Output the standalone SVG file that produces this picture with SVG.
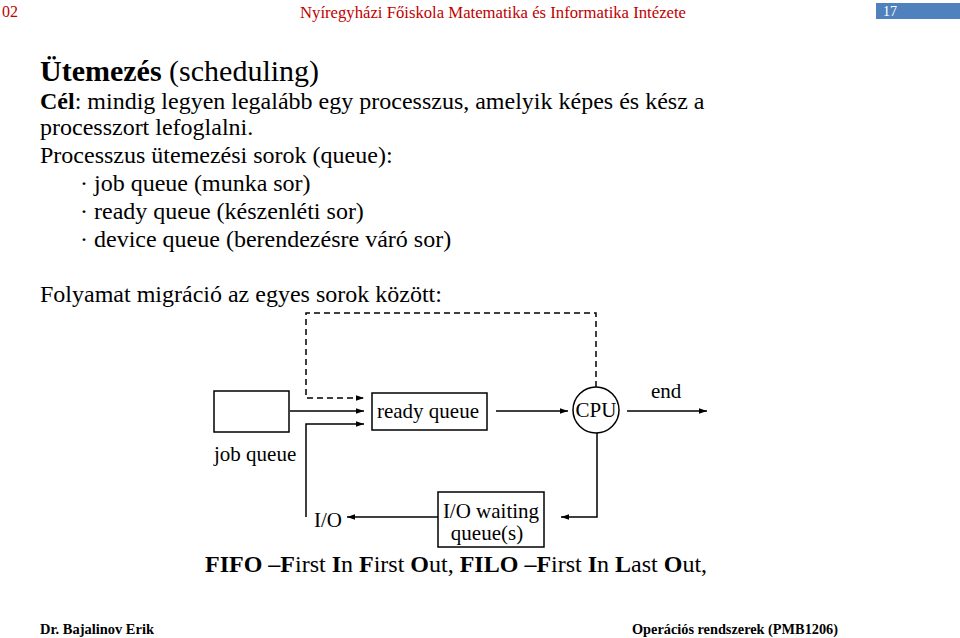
<svg xmlns="http://www.w3.org/2000/svg" width="960" height="638" viewBox="0 0 960 638">
<defs>
<marker id="ah" viewBox="0 0 10 10" refX="10" refY="5" markerWidth="8" markerHeight="8" markerUnits="userSpaceOnUse" orient="auto">
<path d="M0,1.5 L10,5 L0,8.5 Z" fill="#000"/>
</marker>
<style>
.hdr{font-family:"Liberation Serif",serif;fill:#c00000;font-size:16px}
.ftr{font-family:"Liberation Serif",serif;font-weight:bold;font-size:14px;fill:#000}
.body{font-family:"Liberation Serif",serif;font-size:24px;fill:#000}
.dg{font-family:"Liberation Serif",serif;font-size:21px;fill:#000}
.ln{stroke:#000;stroke-width:1.5;fill:none}
.box{stroke:#000;stroke-width:1.5;fill:#fff}
</style>
</defs>
<rect width="960" height="638" fill="#fff"/>
<text class="hdr" x="2" y="17">02</text>
<text class="hdr" x="300" y="18" textLength="386" lengthAdjust="spacingAndGlyphs">Nyíregyházi Főiskola Matematika és Informatika Intézete</text>
<rect x="876" y="3" width="84" height="16" fill="#4f81bd"/>
<text x="883" y="16" font-family="Liberation Serif,serif" font-size="14" fill="#fff">17</text>

<text x="40" y="81" font-family="Liberation Serif,serif" font-size="30"><tspan font-weight="bold">Ütemezés</tspan> (scheduling)</text>
<text class="body" x="40" y="109"><tspan font-weight="bold">Cél</tspan>: mindig legyen legalább egy processzus, amelyik képes és kész a</text>
<text class="body" x="40" y="135">processzort lefoglalni.</text>
<text class="body" x="40" y="163">Processzus ütemezési sorok (queue):</text>
<text class="body" x="80" y="191">· job queue (munka sor)</text>
<text class="body" x="80" y="219">· ready queue (készenléti sor)</text>
<text class="body" x="80" y="247">· device queue (berendezésre váró sor)</text>
<text class="body" x="40" y="302">Folyamat migráció az egyes sorok között:</text>

<g id="connectors">
<path class="ln" d="M290,411 H364" marker-end="url(#ah)"/>
<path class="ln" d="M306,517 V424 H364" marker-end="url(#ah)"/>
<path class="ln" d="M596,387 V313 H306 V398 H364" stroke-dasharray="6,4" marker-end="url(#ah)"/>
<path class="ln" d="M496,411 H568" marker-end="url(#ah)"/>
<path class="ln" d="M627,411 H707" marker-end="url(#ah)"/>
<path class="ln" d="M597,433 V517 H561" marker-end="url(#ah)"/>
<path class="ln" d="M438,517 H347" marker-end="url(#ah)"/>
</g>

<g id="job-queue">
<rect class="box" x="214" y="391" width="75" height="41"/>
<text class="dg" x="214" y="461">job queue</text>
</g>
<g id="ready-queue">
<rect class="box" x="372" y="393" width="115" height="37"/>
<text class="dg" x="428" y="418" text-anchor="middle">ready queue</text>
</g>
<g id="cpu">
<circle class="box" cx="596" cy="410" r="23"/>
<text class="dg" x="596" y="417" text-anchor="middle">CPU</text>
</g>
<g id="end">
<text class="dg" x="651" y="398">end</text>
</g>
<g id="io-waiting">
<rect class="box" x="438" y="492" width="106" height="55"/>
<text class="dg" x="491" y="518" text-anchor="middle">I/O waiting</text>
<text class="dg" x="487" y="540" text-anchor="middle">queue(s)</text>
</g>
<g id="io">
<text class="dg" x="314" y="527">I/O</text>
</g>

<text class="body" x="205" y="572"><tspan font-weight="bold">FIFO –F</tspan>irst <tspan font-weight="bold">I</tspan>n <tspan font-weight="bold">F</tspan>irst <tspan font-weight="bold">O</tspan>ut, <tspan font-weight="bold">FILO –F</tspan>irst <tspan font-weight="bold">I</tspan>n <tspan font-weight="bold">L</tspan>ast <tspan font-weight="bold">O</tspan>ut,</text>

<text class="ftr" x="40" y="634" textLength="114" lengthAdjust="spacingAndGlyphs">Dr. Bajalinov Erik</text>
<text class="ftr" x="632" y="634" textLength="206" lengthAdjust="spacingAndGlyphs">Operációs rendszerek (PMB1206)</text>
</svg>
